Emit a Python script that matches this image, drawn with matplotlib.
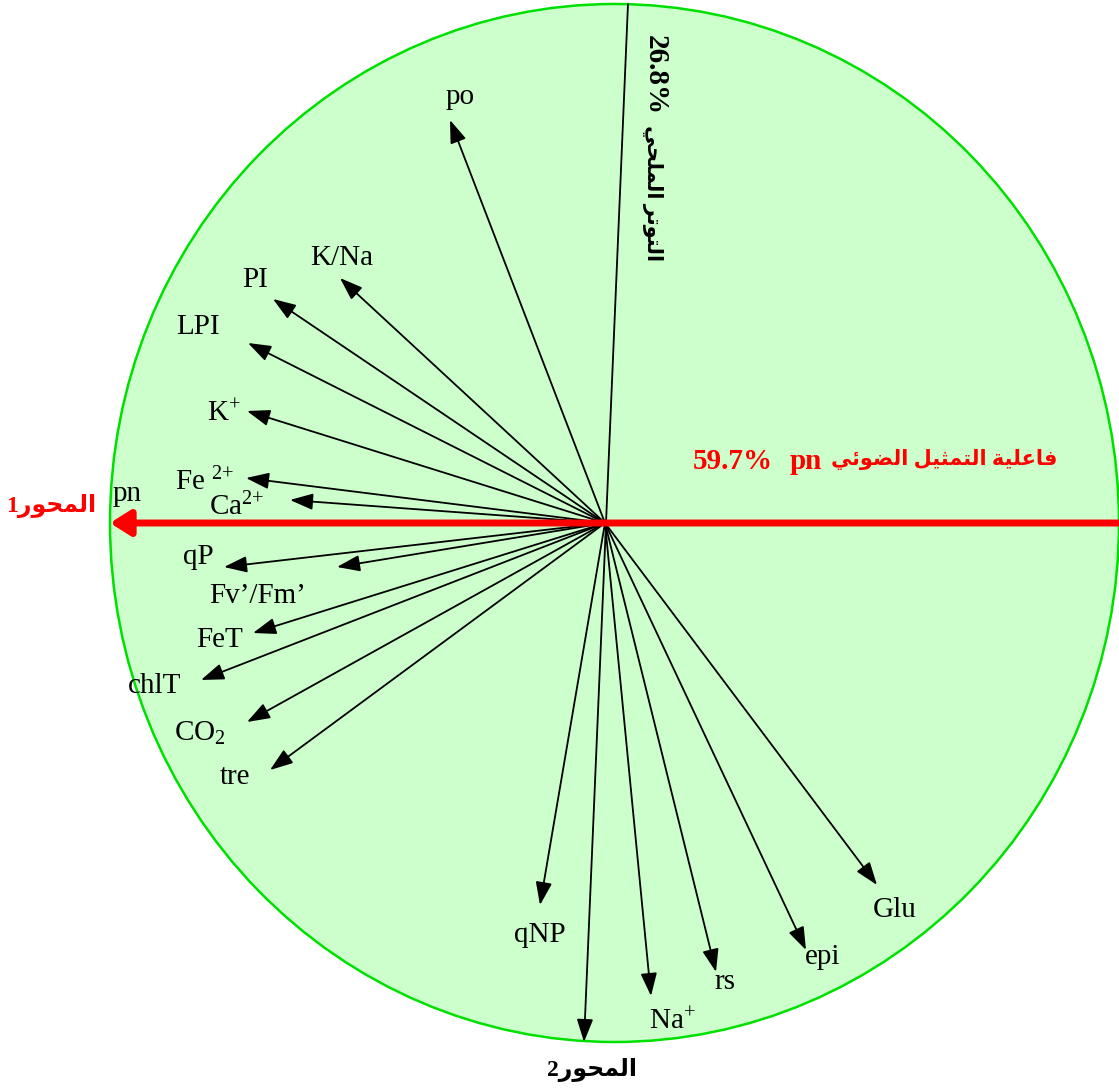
import matplotlib.pyplot as plt
from matplotlib.patches import Ellipse

# بيانات دائرة الارتباط (تحميلات المتغيرات على المحورين)
variables = ['po', 'K/Na', 'PI', 'LPI', 'K$^{+}$', 'Fe $^{2{+}}$', 'Ca$^{2{+}}$',
             'qP', 'Fv’/Fm’', 'FeT', 'chlT', 'CO$_{2}$', 'tre',
             'qNP', 'Na$^{+}$', 'rs', 'epi', 'Glu']
comp1 = [-0.310, -0.530, -0.664, -0.714, -0.716, -0.718, -0.630,
         -0.762, -0.536, -0.704, -0.808, -0.716, -0.670,
         -0.130, 0.092, 0.222, 0.402, 0.544]
comp2 = [0.806, 0.490, 0.448, 0.360, 0.224, 0.090, 0.046,
         -0.088, -0.088, -0.220, -0.314, -0.398, -0.494,
         -0.764, -0.946, -0.898, -0.854, -0.724]
pn_loading = (-0.990, 0.0)
axis2_top = (0.046, 1.038)
axis2_bottom = (-0.042, -1.038)
var_axis1 = 59.7
var_axis2 = 26.8

# إزاحة أسماء المتغيرات عن رؤوس الأسهم (بالبكسل)
label_offsets = [(10, 23), (2, 20), (-18, 19), (-50, 16), (-23, -3), (-41, -4), (-53, -7),
                 (-26, 10), (-79, -29), (-33, -7), (-46, -6), (-47, -11), (-35, -7),
                 (0, -30), (21, -26), (9, -10), (17, -7), (18, -25)]

# النص العربي بأشكال العرض (matplotlib لا يشكّل الحروف العربية)
ar_mehwar = '\uFEAD\uFEEE\uFEA4\uFEE4\uFEDF\uFE8D'
ar_daw2i = '\uFEF2\uFE8B\uFEEE\uFEC0\uFEDF\uFE8D'
ar_tamthil = '\uFEDE\uFEF4\uFE9C\uFEE4\uFE98\uFEDF\uFE8D'
ar_fa3iliya = '\uFE94\uFEF4\uFEE0\uFECB\uFE8E\uFED3'
ar_milhi = '\uFEF2\uFEA4\uFEE0\uFEE4\uFEDF\uFE8D'
ar_tawattur = '\uFEAE\uFE97\uFEEE\uFE98\uFEDF\uFE8D'

plt.rcParams['font.family'] = ['Liberation Serif', 'DejaVu Sans']
plt.rcParams['mathtext.fontset'] = 'custom'
plt.rcParams['mathtext.rm'] = 'Liberation Serif'
plt.rcParams['mathtext.default'] = 'rm'

fig = plt.figure(figsize=(11.19, 10.90), dpi=100)
ax = fig.add_axes([0, 0, 1, 1])
ax.set_xlim(-1.21, 1.028)
ax.set_ylim(-1.134, 1.046)
ax.axis('off')

ax.add_patch(Ellipse((0.019, 0.0), 2.018, 2.076, facecolor='#CCFFCC',
                     edgecolor='#00E000', lw=1.8, zorder=1))

# المحور 2
ax.annotate('', xy=axis2_bottom, xytext=axis2_top,
            arrowprops=dict(arrowstyle='-|>,head_length=0.7,head_width=0.25',
                            mutation_scale=20, lw=1.3, color='black',
                            shrinkA=0, shrinkB=0), zorder=3)

# المحور 1 (pn)
ax.annotate('', xy=pn_loading, xytext=(1.028, 0.0),
            arrowprops=dict(arrowstyle='-|>,head_length=0.6,head_width=0.38',
                            mutation_scale=20, lw=5, color='#FF0000',
                            shrinkA=0, shrinkB=0), zorder=4)
ax.annotate('pn', xy=pn_loading, xytext=(17, 29), textcoords='offset pixels',
            ha='center', va='center', fontsize=21, zorder=5)

for name, x, y, off in zip(variables, comp1, comp2, label_offsets):
    ax.annotate('', xy=(x, y), xytext=(0, 0),
                arrowprops=dict(arrowstyle='-|>,head_length=0.7,head_width=0.25',
                                mutation_scale=20, lw=1.3, color='black',
                                shrinkA=0, shrinkB=0), zorder=3)
    ax.annotate(name, xy=(x, y), xytext=off, textcoords='offset pixels',
                ha='center', va='center', fontsize=21, zorder=5)

# عنوان المحور الأول
ax.text(0.176, 0.122, f'{var_axis1}%', color='#FF0000', fontsize=21,
        fontweight='bold', ha='left', va='center', zorder=5)
ax.text(0.37, 0.122, 'pn', color='#FF0000', fontsize=21,
        fontweight='bold', ha='left', va='center', zorder=5)
ax.text(0.904, 0.126, ar_daw2i + ' ' + ar_tamthil + ' ' + ar_fa3iliya,
        color='#FF0000', fontsize=15, fontweight='bold', ha='right', va='center', zorder=5)

# عنوان المحور الثاني
ax.text(0.10, 0.976, f'{var_axis2}%', rotation=-90, color='black', fontsize=21,
        fontweight='bold', ha='center', va='top', zorder=5)
ax.text(0.096, 0.796, ar_milhi + ' ' + ar_tawattur, rotation=-90,
        color='black', fontsize=15, fontweight='bold', ha='center', va='top', zorder=5)

ax.text(-1.108, 0.034, '1' + ar_mehwar, color='#FF0000', fontsize=17,
        fontweight='bold', ha='center', va='center', zorder=5)
ax.text(-0.026, -1.094, '2' + ar_mehwar, color='black', fontsize=17,
        fontweight='bold', ha='center', va='center', zorder=5)

fig.savefig('out.png', dpi=100)
